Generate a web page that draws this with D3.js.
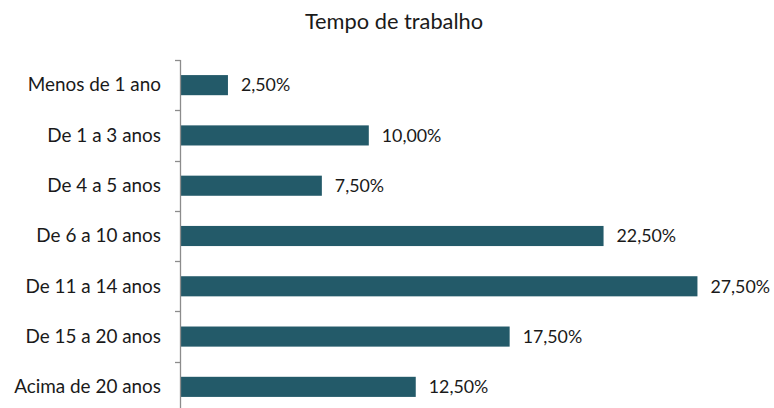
<!DOCTYPE html>
<html><head><meta charset="utf-8">
<script src="https://cdn.jsdelivr.net/npm/d3@7"></script>
<style>body{margin:0;background:#fff}svg{display:block}</style>
</head><body>
<script>
const categories = ["Menos de 1 ano","De 1 a 3 anos","De 4 a 5 anos","De 6 a 10 anos","De 11 a 14 anos","De 15 a 20 anos","Acima de 20 anos"];
const values = [2.5, 10.0, 7.5, 22.5, 27.5, 17.5, 12.5];
const title = "Tempo de trabalho";

const W = 774, H = 408;
const font = "Lato, 'Open Sans', sans-serif";
const svg = d3.select("body").append("svg").attr("width", W).attr("height", H);

const x = d3.scaleLinear().domain([0, 30]).range([181, 744.4]);
const y = d3.scaleBand().domain(categories).range([60, 412]).paddingInner(0.6).paddingOuter(0.3);
const fmt = v => d3.format(".2f")(v).replace(".", ",") + "%";

svg.append("text").attr("x", 394).attr("y", 29).attr("text-anchor", "middle")
  .attr("font-family", font).attr("font-size", 21.8).attr("fill", "#1a1a1a").text(title);

svg.selectAll("rect.bar").data(values).join("rect").attr("class","bar")
  .attr("x", x(0)).attr("y", (d,i) => y(categories[i]))
  .attr("width", d => x(d) - x(0)).attr("height", y.bandwidth())
  .attr("fill", "#235a69");

// axis
const ax = svg.append("g").attr("stroke", "#8c8c8c").attr("stroke-width", 1.3);
const step = y.step();
const y0 = y.range()[0];
ax.append("line").attr("x1", 180.5).attr("x2", 180.5).attr("y1", y0).attr("y2", y.range()[1]);
ax.selectAll("line.t").data(d3.range(categories.length + 1)).join("line").attr("class","t")
  .attr("x1", 175).attr("x2", 180.5)
  .attr("y1", i => Math.round(y0 + i*step) + 0.5).attr("y2", i => Math.round(y0 + i*step) + 0.5);

svg.selectAll("text.cat").data(categories).join("text").attr("class","cat")
  .attr("x", 161).attr("y", d => y(d) + y.bandwidth()/2 + 6.3)
  .attr("text-anchor", "end").attr("font-family", font).attr("font-size", 18.9).attr("fill", "#1a1a1a")
  .text(d => d);

svg.selectAll("text.val").data(values).join("text").attr("class","val")
  .attr("x", d => x(d) + 13).attr("y", (d,i) => y(categories[i]) + y.bandwidth()/2 + 6.3)
  .attr("font-family", font).attr("font-size", 17.8).attr("fill", "#1a1a1a")
  .text(d => fmt(d));
</script>
</body></html>
